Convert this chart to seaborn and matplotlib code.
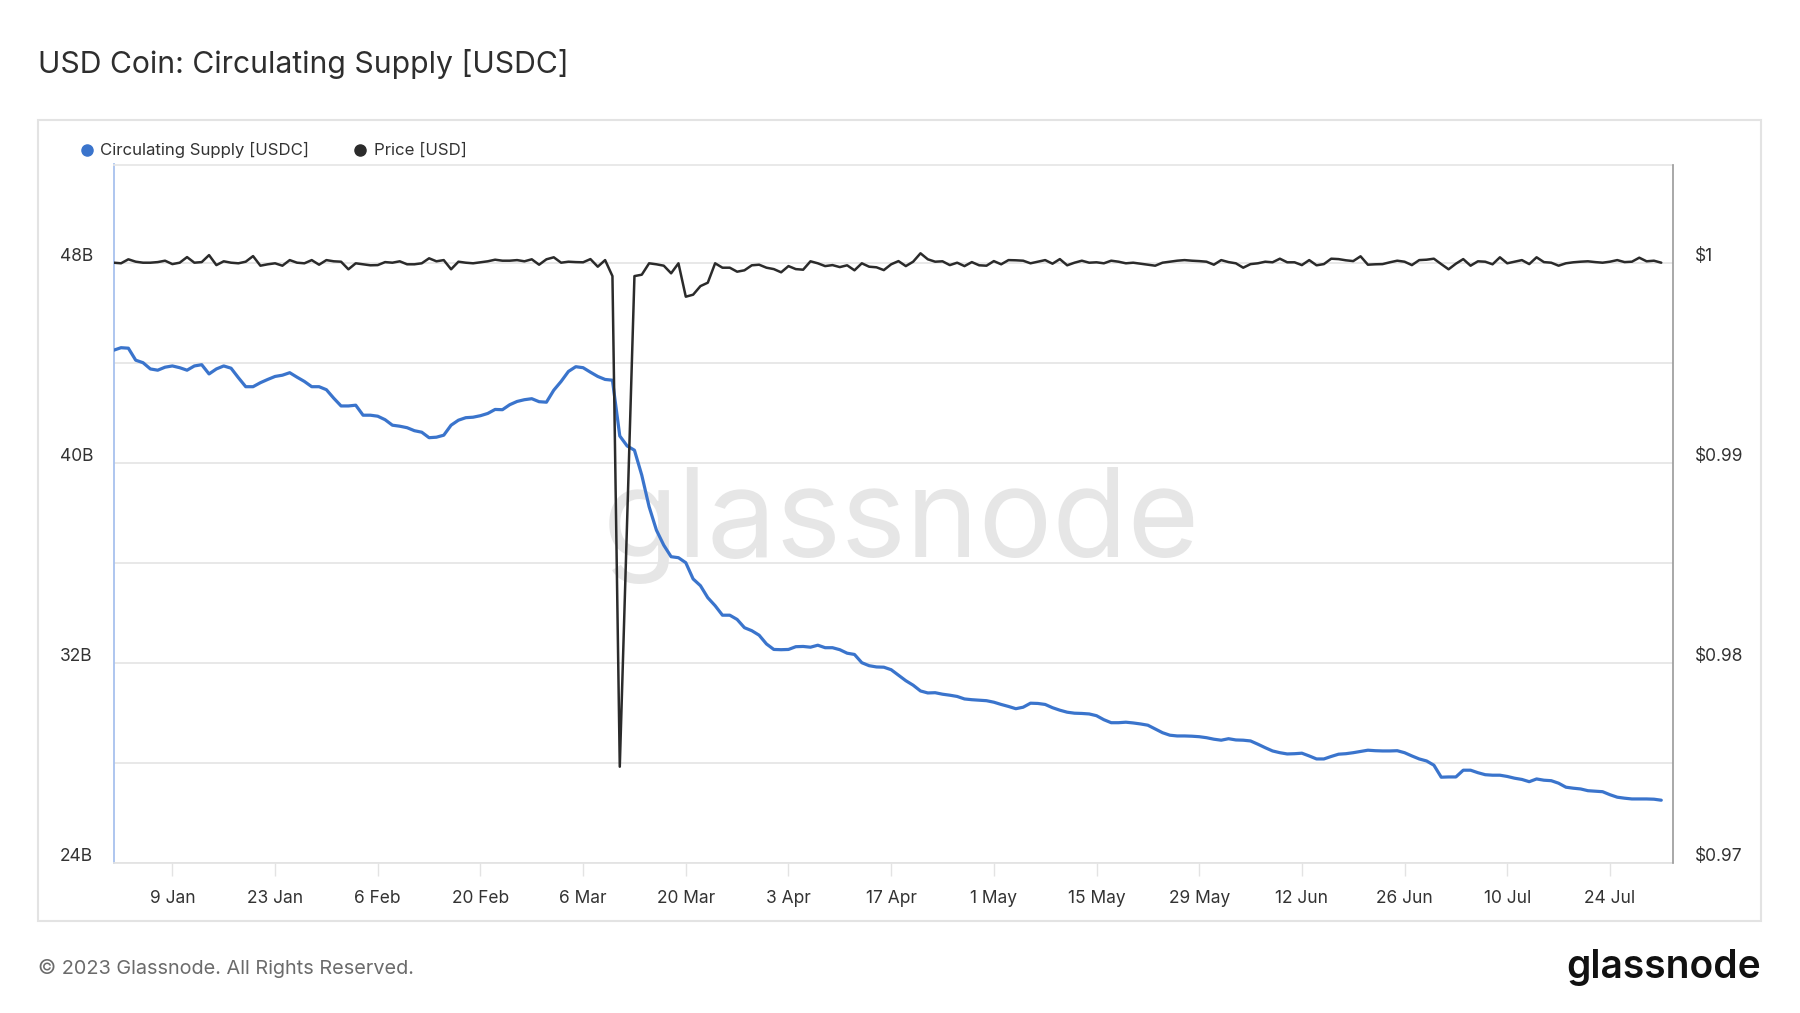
import matplotlib
matplotlib.use("Agg")
import matplotlib.pyplot as plt
import matplotlib.transforms as mtransforms
from matplotlib.lines import Line2D
from matplotlib.patches import Rectangle
import seaborn as sns
import pandas as pd

start_date = "2023-01-01"

# circulating supply, billions USDC, daily from 1 Jan 2023
supply_b = [
    44.5, 44.6, 44.58, 44.1, 44.0, 43.75, 43.7, 43.82, 43.87, 43.8,
    43.7, 43.87, 43.92, 43.55, 43.75, 43.87, 43.78, 43.4, 43.04, 43.04,
    43.2, 43.33, 43.45, 43.5, 43.6, 43.42, 43.25, 43.04, 43.04, 42.92,
    42.58, 42.27, 42.27, 42.3, 41.9, 41.9, 41.86, 41.72, 41.5, 41.46,
    41.4, 41.28, 41.22, 41.0, 41.02, 41.1, 41.5, 41.7, 41.8, 41.82,
    41.88, 41.97, 42.13, 42.12, 42.32, 42.45, 42.52, 42.56, 42.44, 42.42,
    42.9, 43.25, 43.65, 43.84, 43.8, 43.62, 43.45, 43.33, 43.3, 41.07,
    40.67, 40.5, 39.5, 38.24, 37.3, 36.7, 36.24, 36.2, 36.0, 35.35,
    35.08, 34.6, 34.28, 33.9, 33.9, 33.73, 33.4, 33.28, 33.1, 32.75,
    32.53, 32.52, 32.53, 32.64, 32.65, 32.62, 32.7, 32.6, 32.6, 32.52,
    32.38, 32.33, 32.0, 31.88, 31.83, 31.82, 31.72, 31.5, 31.28, 31.1,
    30.87, 30.79, 30.8, 30.74, 30.7, 30.65, 30.55, 30.52, 30.5, 30.48,
    30.42, 30.33, 30.25, 30.16, 30.22, 30.38, 30.37, 30.33, 30.2, 30.1,
    30.02, 29.98, 29.97, 29.95, 29.88, 29.72, 29.6, 29.6, 29.62, 29.59,
    29.55, 29.5, 29.35, 29.2, 29.1, 29.07, 29.07, 29.06, 29.04, 29.0,
    28.94, 28.9, 28.96, 28.91, 28.9, 28.87, 28.74, 28.6, 28.47, 28.4,
    28.35, 28.36, 28.38, 28.27, 28.15, 28.15, 28.25, 28.34, 28.36, 28.4,
    28.45, 28.5, 28.48, 28.47, 28.47, 28.48, 28.4, 28.27, 28.15, 28.07,
    27.9, 27.42, 27.43, 27.43, 27.7, 27.7, 27.6, 27.52, 27.5, 27.5,
    27.45, 27.38, 27.33, 27.24, 27.35, 27.3, 27.28, 27.18, 27.02, 26.98,
    26.95, 26.88, 26.86, 26.84, 26.72, 26.62, 26.58, 26.55, 26.55, 26.55,
    26.54, 26.5,
]

# price in USD, same days (no point on 12 Mar)
price_usd = [
    1.0, 0.99997, 1.00017, 1.00005, 1.0, 1.0, 1.00003, 1.0001, 0.99993, 1.0,
    1.00028, 1.0, 1.00003, 1.00038, 0.99988, 1.00007, 1.0, 0.99997, 1.00005, 1.00033,
    0.99985, 0.99992, 0.99997, 0.99985, 1.00013, 1.0, 0.99997, 1.00013, 0.9999, 1.00013,
    1.00007, 1.00005, 0.99967, 0.99997, 0.99992, 0.99987, 0.99988, 1.00003, 1.0, 1.00007,
    0.99992, 0.99992, 0.99997, 1.00022, 1.00007, 1.00013, 0.99967, 1.00005, 1.0, 0.99997,
    1.00002, 1.00007, 1.00015, 1.0001, 1.0001, 1.00013, 1.00007, 1.00017, 0.9999, 1.00017,
    1.00027, 1.0, 1.00005, 1.00003, 1.00002, 1.00018, 0.9998, 1.00013, 0.99933, 0.9748,
    None, 0.99933, 0.9994, 0.99997, 0.99992, 0.99985, 0.99947, 0.99997, 0.9983, 0.9984,
    0.99883, 0.999, 0.99997, 0.99975, 0.99975, 0.99955, 0.99962, 0.99987, 0.9999, 0.99975,
    0.99968, 0.99952, 0.99983, 0.99968, 0.99965, 1.00007, 0.99997, 0.99983, 0.99988, 0.99978,
    0.99987, 0.99962, 0.99997, 0.9998, 0.99977, 0.99963, 0.99992, 1.00008, 0.99983, 1.00005,
    1.00047, 1.00017, 1.00005, 1.00007, 0.99988, 1.0, 0.99983, 1.00003, 0.99987, 0.99985,
    1.00008, 0.99992, 1.00013, 1.00012, 1.0001, 0.99997, 1.00005, 1.00013, 0.99995, 1.00018,
    0.99987, 1.0, 1.0001, 1.0, 1.00002, 0.99997, 1.0001, 1.00005, 0.99997, 1.0,
    0.99995, 0.9999, 0.99985, 1.0, 1.00005, 1.0001, 1.00013, 1.0001, 1.00008, 1.00005,
    0.9999, 1.00013, 1.00003, 0.99997, 0.99975, 0.99993, 0.99997, 1.00005, 1.00002, 1.0002,
    1.00002, 1.00002, 0.99988, 1.00013, 0.99987, 0.99993, 1.0002, 1.00018, 1.00012, 1.00008,
    1.00032, 0.9999, 0.99992, 0.99993, 1.00002, 1.0001, 1.00005, 0.99988, 1.00013, 1.00015,
    1.0002, 0.99993, 0.99967, 0.99995, 1.00018, 0.99985, 1.00007, 1.00005, 0.99992, 1.00027,
    0.99997, 1.00005, 1.00013, 0.99993, 1.00027, 1.00003, 1.0, 0.99985, 0.99997, 1.00002,
    1.00005, 1.00007, 1.00003, 1.0, 1.00005, 1.00013, 1.00003, 1.00005, 1.00025, 1.00007,
    1.0001, 1.0,
]

tick_dates = ["2023-01-09", "2023-01-23", "2023-02-06", "2023-02-20", "2023-03-06",
              "2023-03-20", "2023-04-03", "2023-04-17", "2023-05-01", "2023-05-15",
              "2023-05-29", "2023-06-12", "2023-06-26", "2023-07-10", "2023-07-24"]
tick_labels = ["9 Jan", "23 Jan", "6 Feb", "20 Feb", "6 Mar", "20 Mar", "3 Apr", "17 Apr",
               "1 May", "15 May", "29 May", "12 Jun", "26 Jun", "10 Jul", "24 Jul"]
left_ticks = [24, 28, 32, 36, 40, 44, 48]
left_labels = ["24B", "", "32B", "", "40B", "", "48B"]
right_ticks = [0.97, 0.98, 0.99, 1.0]
right_labels = ["\\$0.97", "\\$0.98", "\\$0.99", "\\$1"]

BLUE = "#3a74cc"
DARK = "#2b2b2b"
W, H = 1800, 1013


def fx(px):
    return px / W


def fy(py):
    return 1 - py / H


def nudge_down(labels, fig, px):
    off = mtransforms.ScaledTranslation(0, -px / 100, fig.dpi_scale_trans)
    for lab in labels:
        lab.set_verticalalignment("bottom")
        lab.set_transform(lab.get_transform() + off)


def main():
    sns.set_theme(style="white")
    plt.rcParams["font.family"] = ["Inter", "DejaVu Sans"]

    dates = pd.date_range(start_date, periods=len(supply_b), freq="D")
    df_s = pd.DataFrame({"date": dates, "supply": supply_b})
    df_p = pd.DataFrame({"date": dates, "price": price_usd}).dropna()

    fig = plt.figure(figsize=(W / 100, H / 100), dpi=100)
    left, right, top, bottom = 113.7, 1673, 164.5, 862.7
    ax = fig.add_axes([fx(left), fy(bottom), (right - left) / W, (bottom - top) / H])

    sns.lineplot(data=df_s, x="date", y="supply", ax=ax, color=BLUE, linewidth=2.3, zorder=3)
    ax.set_ylim(24, 24 + (bottom - top) / 25)
    ax.set_xlim(pd.Timestamp(start_date), pd.Timestamp(start_date) + pd.Timedelta(days=212.6))
    ax.set_yticks(left_ticks)
    ax.set_yticklabels(left_labels)
    ax.set_xticks(pd.to_datetime(tick_dates))
    ax.set_xticklabels(tick_labels)
    ax.set_xlabel("")
    ax.set_ylabel("")
    ax.grid(axis="y", color="#e6e6e6", linewidth=1.3)
    ax.set_axisbelow(True)
    ax.tick_params(axis="y", length=0, pad=38.9, labelsize=12.5, labelcolor="#333333")
    ax.tick_params(axis="x", length=9.5, width=1, color="#e3e3e3", pad=10.5,
                   labelsize=12.5, labelcolor="#333333", bottom=True)
    for lab in ax.get_yticklabels():
        lab.set_horizontalalignment("left")
    nudge_down(ax.get_yticklabels(), fig, 2.2)

    ax.spines["left"].set_color("#a8c2ee")
    ax.spines["left"].set_linewidth(1.3)
    ax.spines["top"].set_color("#e6e6e6")
    ax.spines["bottom"].set_color("#e3e3e3")
    ax.spines["right"].set_visible(False)

    # watermark
    ax.text(fx(901), fy(556.7), "glassnode", transform=fig.transFigure, ha="center",
            va="baseline", fontsize=88.5, color="#e6e6e6", zorder=0.5)

    ax2 = ax.twinx()
    sns.lineplot(data=df_p, x="date", y="price", ax=ax2, color=DARK, linewidth=1.8)
    ax2.set_ylim(0.97, 0.97 + (bottom - top) / 20000)
    ax2.set_yticks(right_ticks)
    ax2.set_yticklabels(right_labels)
    ax2.set_ylabel("")
    ax2.tick_params(axis="y", length=0, pad=15.8, labelsize=12.5, labelcolor="#333333")
    nudge_down(ax2.get_yticklabels(), fig, 2.2)
    for s in ["left", "top", "bottom"]:
        ax2.spines[s].set_visible(False)
    ax2.spines["right"].set_color("#9a9a9a")
    ax2.spines["right"].set_linewidth(1.2)

    # outer frame
    fig.add_artist(Rectangle((fx(38), fy(921)), (1761 - 38) / W, (921 - 120) / H,
                             transform=fig.transFigure, fill=False,
                             edgecolor="#e3e3e3", linewidth=1.5))

    fig.text(fx(38), fy(64), "USD Coin: Circulating Supply [USDC]", fontsize=21.7,
             va="center", ha="left", color="#2e2e2e")

    # legend
    for mx, tx, label, col in [(87, 100, "Circulating Supply [USDC]", BLUE),
                               (360, 374, "Price [USD]", DARK)]:
        fig.add_artist(Line2D([fx(mx)], [fy(150)], marker="o", markersize=8,
                              color=col, linestyle="none", transform=fig.transFigure))
        fig.text(fx(tx), fy(150), label, fontsize=12.1, va="center", ha="left", color="#333333")

    fig.text(fx(38), fy(968), "\u00a9 2023 Glassnode. All Rights Reserved.", fontsize=14.3,
             va="center", ha="left", color="#6b6b6b")
    fig.text(fx(1761), fy(977.7), "glassnode", fontsize=28, va="baseline", ha="right",
             color="#111111", fontweight="semibold")

    fig.savefig("out.png", dpi=100)
    plt.close(fig)


if __name__ == "__main__":
    main()
